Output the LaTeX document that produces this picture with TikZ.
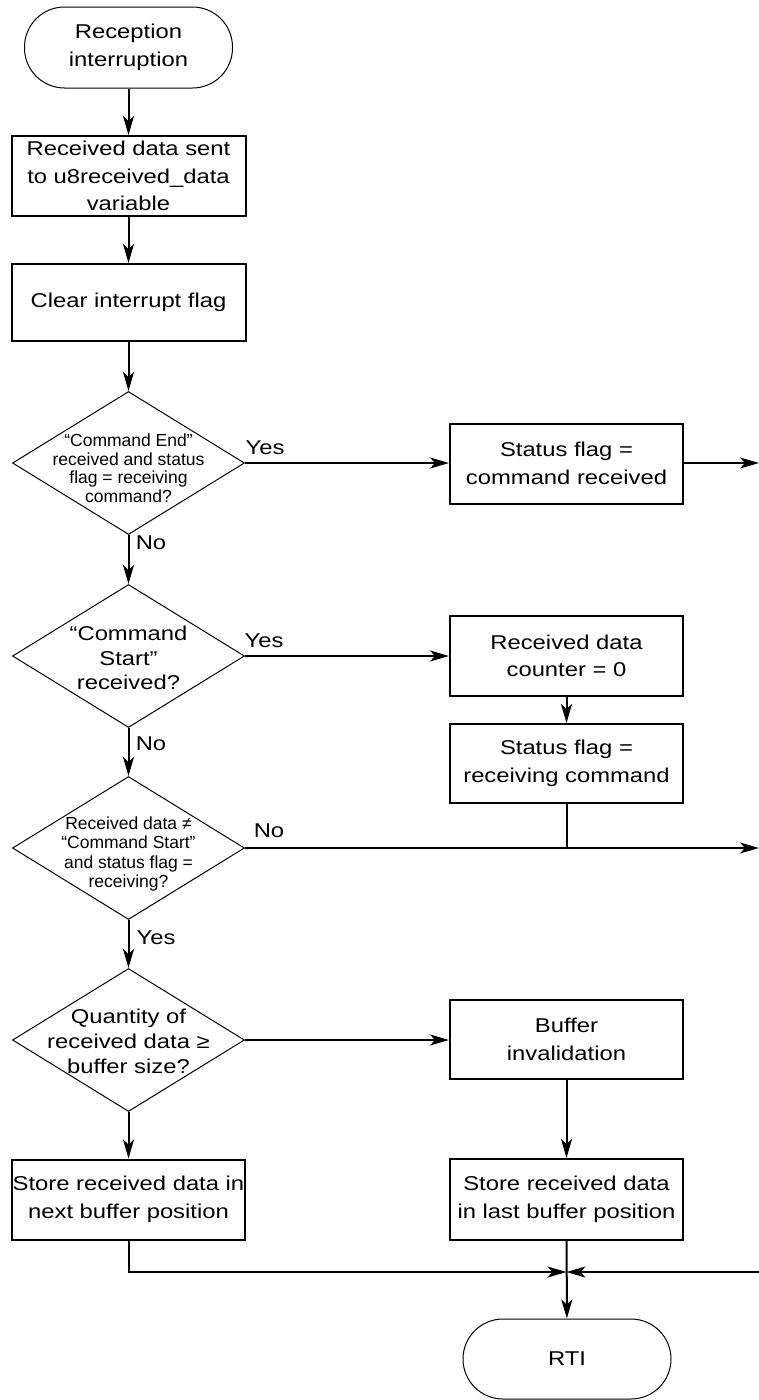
\documentclass[tikz,border=0pt]{standalone}
\usepackage{fontspec}
\setmainfont{Liberation Sans}[FakeStretch=1.19]
\newfontfamily\narrowsans{Liberation Sans}
\usetikzlibrary{arrows.meta,shapes.geometric}

\newcommand\bodyfs{\fontsize{20pt}{27.5pt}\selectfont}
\newcommand\smallfs{\narrowsans\fontsize{17.5pt}{18.5pt}\selectfont}

\tikzset{
  procbox/.style={draw, line width=2pt, minimum width=233pt, minimum height=80pt,
    inner sep=0pt, align=center, font=\bodyfs},
  termbox/.style={draw, line width=1pt, rounded corners=40pt, minimum width=208pt,
    minimum height=81pt, inner sep=0pt, align=center, font=\bodyfs},
  decbox/.style={draw, diamond, line width=1pt, minimum width=232pt,
    minimum height=143pt, inner sep=0pt},
  dectext/.style={align=center, inner sep=0pt},
  flow/.style={line width=2pt, -{Stealth[length=19pt,width=11pt,inset=5pt]}},
  link/.style={line width=2pt},
  lbl/.style={inner sep=0pt, font=\bodyfs}
}

\begin{document}
\begin{tikzpicture}[x=1pt,y=-1pt]
\useasboundingbox (0,0) rectangle (759,1400);

% left column
\node[termbox] (start) at (128.5,47.5) {Reception\\interruption};
\node[procbox, minimum width=234pt] (b1) at (128.5,176)
  {\fontsize{20pt}{23pt}\selectfont Received data sent\\to u8received\_data\\variable};
\node[procbox, minimum width=234pt, minimum height=77pt] (b2) at (128.5,302.5) {Clear interrupt flag};

\node[decbox] (d1) at (128.5,463) {};
\node[dectext, font=\smallfs] (d1t) at (128.5,468)
  {“Command End”\\received and status\\flag = receiving\\command?};

\node[decbox] (d2) at (128.5,656) {};
\node[dectext, font={\fontsize{20pt}{24.5pt}\selectfont}] (d2t) at (128.5,658)
  {“Command\\Start”\\received?};

\node[decbox] (d3) at (128.5,848) {};
\node[dectext, font={\narrowsans\fontsize{17.5pt}{19.5pt}\selectfont}] (d3t) at (128.5,854)
  {Received data ≠\\“Command Start”\\and status flag =\\receiving?};

\node[decbox] (d4) at (128.5,1040) {};
\node[dectext, font={\fontsize{20pt}{25pt}\selectfont}] (d4t) at (128.5,1041)
  {Quantity of\\received data ≥\\buffer size?};

\node[procbox] (b3) at (128.5,1199.5) {Store received data in\\next buffer position};

% right column
\node[procbox] (s1) at (566.5,463.5) {Status flag =\\command received};
\node[procbox] (s2) at (566.5,656) {Received data\\counter = 0};
\node[procbox, minimum height=79pt] (s3) at (566.5,763.5) {Status flag =\\receiving command};
\node[procbox, minimum height=79pt] (s4) at (566.5,1039.5) {Buffer\\invalidation};
\node[procbox, minimum height=81pt] (s5) at (566.5,1199.5) {Store received data\\in last buffer position};
\node[termbox, minimum height=80pt] (rti) at (567,1359) {RTI};

% free ends at the right margin and the merge point
\coordinate (out1) at (759,463);
\coordinate (out2) at (759,848);
\coordinate (in3) at (759,1272);
\coordinate (join) at (566.5,1272);

% connectors
\draw[flow] (start) -- (b1);
\draw[flow] (b1) -- (b2);
\draw[flow] (b2) -- (d1);
\draw[flow] (d1.east) -- (s1.west |- d1.east);
\draw[flow] (s1.east |- out1) -- (out1);
\draw[flow] (d1.south) -- (d2.north);
\draw[flow] (d2.east) -- (s2.west);
\draw[flow] (s2) -- (s3);
\draw[link] (s3.south) -- (s3.south |- d3.east);
\draw[flow] (d3.east) -- (out2);
\draw[flow] (d2.south) -- (d3.north);
\draw[flow] (d3.south) -- (d4.north);
\draw[flow] (d4.east) -- (s4.west |- d4.east);
\draw[flow] (s4) -- (s5);
\draw[flow] (d4.south) -- (b3.north);
\draw[flow] (b3.south) |- (join);
\draw[flow] (in3) -- (join);
\draw[flow] (s5) -- (rti);

% branch labels
\node[lbl] (yes1) at (265,448) {Yes};
\node[lbl] (no1) at (151,543) {No};
\node[lbl] (yes2) at (264,641) {Yes};
\node[lbl] (no2) at (151,744) {No};
\node[lbl] (no3) at (269,831) {No};
\node[lbl] (yes3) at (156,938) {Yes};
\end{tikzpicture}
\end{document}
